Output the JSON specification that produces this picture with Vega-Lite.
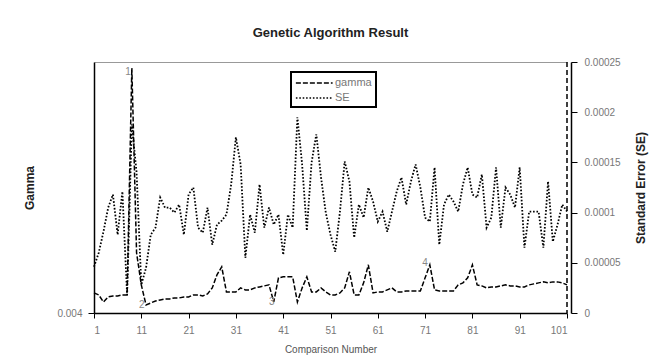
{
  "$schema": "https://vega.github.io/schema/vega-lite/v6.json",
  "width": 473,
  "height": 251,
  "autosize": {"type": "none"},
  "padding": {"left": 94, "top": 62, "right": 92, "bottom": 50},
  "background": "white",
  "title": {"text": "Genetic Algorithm Result", "fontSize": 13, "fontWeight": "bold", "font": "Liberation Sans", "color": "#222", "offset": 17, "anchor": "middle"},
  "data": {"values": [
    {"n":1,"gamma":0.0060,"se":0.000046},{"n":2,"gamma":0.0058,"se":0.000060},{"n":3,"gamma":0.0051,"se":0.000081},{"n":4,"gamma":0.0056,"se":0.000105},{"n":5,"gamma":0.0057,"se":0.000118},
    {"n":6,"gamma":0.0057,"se":0.000078},{"n":7,"gamma":0.0058,"se":0.000121},{"n":8,"gamma":0.0058,"se":0.000018},{"n":9,"gamma":0.0284,"se":0.000188},{"n":10,"gamma":0.0100,"se":0.000140},
    {"n":11,"gamma":0.0068,"se":0.000028},{"n":12,"gamma":0.0048,"se":0.000045},{"n":13,"gamma":0.0050,"se":0.000078},{"n":14,"gamma":0.0052,"se":0.000085},{"n":15,"gamma":0.0053,"se":0.000115},
    {"n":16,"gamma":0.0054,"se":0.000105},{"n":17,"gamma":0.0054,"se":0.000105},{"n":18,"gamma":0.0055,"se":0.000100},{"n":19,"gamma":0.0055,"se":0.000108},{"n":20,"gamma":0.0056,"se":0.000078},
    {"n":21,"gamma":0.0056,"se":0.000118},{"n":22,"gamma":0.0058,"se":0.000125},{"n":23,"gamma":0.0058,"se":0.000085},{"n":24,"gamma":0.0057,"se":0.000080},{"n":25,"gamma":0.0059,"se":0.000105},
    {"n":26,"gamma":0.0065,"se":0.000068},{"n":27,"gamma":0.0078,"se":0.000088},{"n":28,"gamma":0.0086,"se":0.000092},{"n":29,"gamma":0.0061,"se":0.000098},{"n":30,"gamma":0.0061,"se":0.000128},
    {"n":31,"gamma":0.0061,"se":0.000175},{"n":32,"gamma":0.0065,"se":0.000148},{"n":33,"gamma":0.0063,"se":0.000055},{"n":34,"gamma":0.0063,"se":0.000098},{"n":35,"gamma":0.0065,"se":0.000080},
    {"n":36,"gamma":0.0066,"se":0.000128},{"n":37,"gamma":0.0067,"se":0.000085},{"n":38,"gamma":0.0068,"se":0.000105},{"n":39,"gamma":0.0051,"se":0.000088},{"n":40,"gamma":0.0075,"se":0.000098},
    {"n":41,"gamma":0.0076,"se":0.000058},{"n":42,"gamma":0.0076,"se":0.000098},{"n":43,"gamma":0.0076,"se":0.000085},{"n":44,"gamma":0.0051,"se":0.000195},{"n":45,"gamma":0.0065,"se":0.000148},
    {"n":46,"gamma":0.0076,"se":0.000082},{"n":47,"gamma":0.0061,"se":0.000150},{"n":48,"gamma":0.0061,"se":0.000178},{"n":49,"gamma":0.0065,"se":0.000135},{"n":50,"gamma":0.0061,"se":0.000100},
    {"n":51,"gamma":0.0058,"se":0.000078},{"n":52,"gamma":0.0058,"se":0.000061},{"n":53,"gamma":0.0060,"se":0.000101},{"n":54,"gamma":0.0065,"se":0.000151},{"n":55,"gamma":0.0081,"se":0.000131},
    {"n":56,"gamma":0.0058,"se":0.000075},{"n":57,"gamma":0.0058,"se":0.000108},{"n":58,"gamma":0.0070,"se":0.000095},{"n":59,"gamma":0.0088,"se":0.000125},{"n":60,"gamma":0.0060,"se":0.000111},
    {"n":61,"gamma":0.0061,"se":0.000091},{"n":62,"gamma":0.0061,"se":0.000101},{"n":63,"gamma":0.0063,"se":0.000081},{"n":64,"gamma":0.0065,"se":0.000101},{"n":65,"gamma":0.0061,"se":0.000121},
    {"n":66,"gamma":0.0061,"se":0.000135},{"n":67,"gamma":0.0062,"se":0.000108},{"n":68,"gamma":0.0062,"se":0.000131},{"n":69,"gamma":0.0062,"se":0.000148},{"n":70,"gamma":0.0062,"se":0.000125},
    {"n":71,"gamma":0.0075,"se":0.000095},{"n":72,"gamma":0.0088,"se":0.000091},{"n":73,"gamma":0.0063,"se":0.000145},{"n":74,"gamma":0.0062,"se":0.000068},{"n":75,"gamma":0.0062,"se":0.000108},
    {"n":76,"gamma":0.0062,"se":0.000118},{"n":77,"gamma":0.0062,"se":0.000111},{"n":78,"gamma":0.0068,"se":0.000101},{"n":79,"gamma":0.0070,"se":0.000128},{"n":80,"gamma":0.0075,"se":0.000145},
    {"n":81,"gamma":0.0088,"se":0.000118},{"n":82,"gamma":0.0068,"se":0.000115},{"n":83,"gamma":0.0067,"se":0.000138},{"n":84,"gamma":0.0065,"se":0.000085},{"n":85,"gamma":0.0066,"se":0.000095},
    {"n":86,"gamma":0.0066,"se":0.000145},{"n":87,"gamma":0.0067,"se":0.000085},{"n":88,"gamma":0.0068,"se":0.000125},{"n":89,"gamma":0.0067,"se":0.000118},{"n":90,"gamma":0.0067,"se":0.000105},
    {"n":91,"gamma":0.0066,"se":0.000145},{"n":92,"gamma":0.0066,"se":0.000065},{"n":93,"gamma":0.0068,"se":0.000101},{"n":94,"gamma":0.0069,"se":0.000101},{"n":95,"gamma":0.0070,"se":0.000101},
    {"n":96,"gamma":0.0071,"se":0.000065},{"n":97,"gamma":0.0070,"se":0.000131},{"n":98,"gamma":0.0071,"se":0.000071},{"n":99,"gamma":0.0071,"se":0.000088},{"n":100,"gamma":0.0070,"se":0.000108},
    {"n":101,"gamma":0.0068,"se":0.000101}
  ]},
  "config": {
    "font": "Liberation Sans",
    "view": {"stroke": null},
    "axis": {"grid": false, "labelFont": "Liberation Sans", "titleFont": "Liberation Sans", "labelColor": "#777", "labelFontSize": 10, "domainColor": "black", "tickColor": "black", "domainWidth": 1.5},
    "legend": {"strokeColor": "black", "padding": 4, "symbolStrokeWidth": 1.5, "symbolStrokeColor": "black", "symbolSize": 150, "labelFontSize": 11, "labelColor": "#777", "labelOffset": 26, "rowPadding": 3}
  },
  "layer": [
    {
      "layer": [
        {
          "mark": {"type": "line", "strokeWidth": 1.5, "color": "black"},
          "encoding": {
            "x": {"field": "n", "type": "quantitative", "scale": {"domain": [1, 101], "nice": false, "zero": false},
                  "axis": {"values": [1, 11, 21, 31, 41, 51, 61, 71, 81, 91, 101], "title": "Comparison Number", "tickSize": 5, "labelPadding": 7, "titlePadding": 9, "titleFontSize": 10, "titleColor": "#555", "titleFontWeight": "normal"}},
            "y": {"field": "gamma", "type": "quantitative", "scale": {"domain": [0.004, 0.029], "nice": false, "zero": false},
                  "axis": {"orient": "left", "values": [0.004], "format": ".3f", "title": "Gamma", "titleFontSize": 12, "titleFontWeight": "bold", "titleColor": "#222", "tickSize": 6, "labelPadding": 6, "titlePadding": 20}},
            "strokeDash": {"datum": "gamma", "type": "nominal",
                  "scale": {"domain": ["gamma", "SE"], "range": [[5, 2], [1.6, 1.8]]},
                  "legend": {"title": null, "orient": "none", "legendX": 197, "legendY": 10, "symbolType": "M-1,0H5",
                             "encode": {"legend": {"update": {"strokeWidth": {"value": 2}}}}}}
          }
        },
        {
          "data": {"values": [
            {"n": 8.2, "gamma": 0.028, "label": "1"},
            {"n": 11.1, "gamma": 0.0048, "label": "2"},
            {"n": 38.6, "gamma": 0.0051, "label": "3"},
            {"n": 71, "gamma": 0.009, "label": "4"}
          ]},
          "mark": {"type": "text", "fontSize": 10, "color": "#888"},
          "encoding": {
            "x": {"field": "n", "type": "quantitative"},
            "y": {"field": "gamma", "type": "quantitative"},
            "text": {"field": "label"}
          }
        },
        {
          "data": {"values": [{"n": 101}]},
          "mark": {"type": "rule", "strokeDash": [5, 3], "strokeWidth": 1.5, "color": "black"},
          "encoding": {"x": {"field": "n", "type": "quantitative"}}
        }
      ]
    },
    {
      "mark": {"type": "line", "strokeWidth": 1.8, "color": "black"},
      "encoding": {
        "x": {"field": "n", "type": "quantitative", "axis": {"orient": "top", "labels": false, "ticks": false, "title": null, "domainColor": "#999", "domainWidth": 1}},
        "y": {"field": "se", "type": "quantitative", "scale": {"domain": [0, 0.00025], "nice": false},
              "axis": {"orient": "right", "offset": 4, "values": [0, 0.00005, 0.0001, 0.00015, 0.0002, 0.00025], "format": "~f", "title": "Standard Error (SE)", "titleAngle": 270, "titleFontSize": 12, "titleFontWeight": "bold", "titleColor": "#222", "tickSize": 6, "labelPadding": 7, "titlePadding": 27}},
        "strokeDash": {"datum": "SE", "type": "nominal"}
      }
    }
  ],
  "resolve": {"scale": {"y": "independent"}, "axis": {"x": "independent"}}
}
